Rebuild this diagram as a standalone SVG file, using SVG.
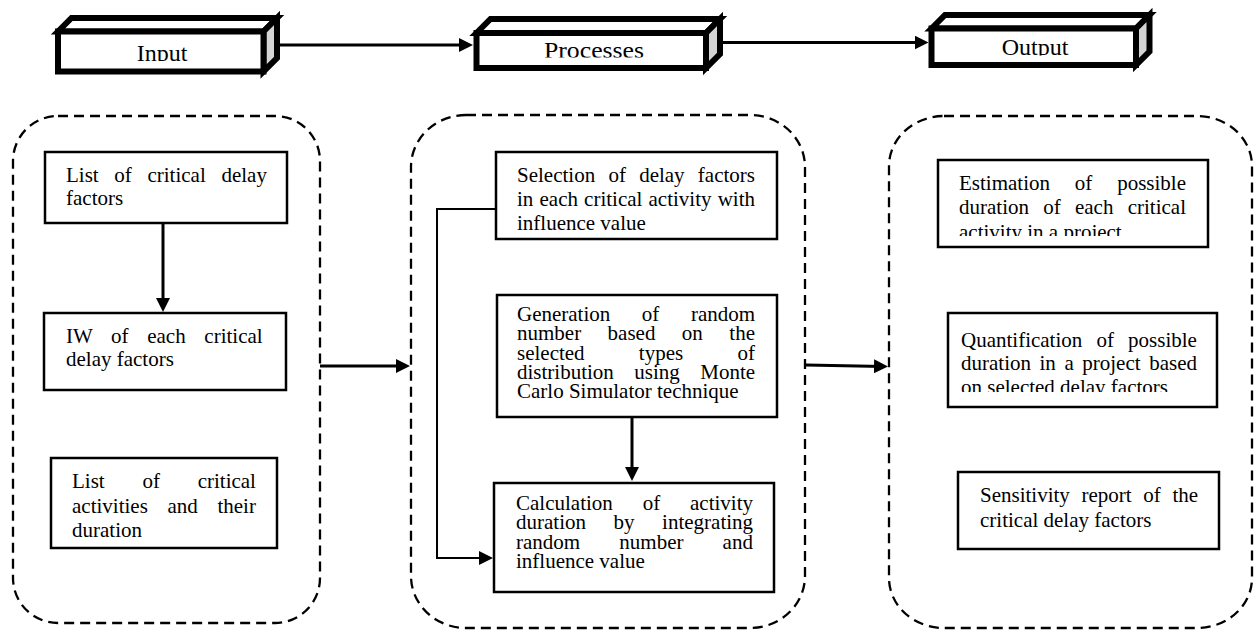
<svg xmlns="http://www.w3.org/2000/svg" width="1255" height="631" viewBox="0 0 1255 631">
<style>
.box{fill:#fff;stroke:#000;stroke-width:2.5}
.t{font-family:"Liberation Serif","Times New Roman",serif;font-size:21px;fill:#000}
.h{font-family:"Liberation Serif","Times New Roman",serif;font-size:24px;fill:#000}
.cont{fill:none;stroke:#000;stroke-width:2.3;stroke-dasharray:10 6}
.conn{fill:none;stroke:#000;stroke-width:3}
.thin{fill:none;stroke:#000;stroke-width:2}
.face{fill:#fff;stroke:#000;stroke-width:6;stroke-linejoin:miter}
.side{fill:#d4d4d4;stroke:#000;stroke-width:6;stroke-linejoin:miter}
</style>
<defs>
<marker id="ah" viewBox="0 0 14 14" markerWidth="14" markerHeight="14" refX="9" refY="7" orient="auto" markerUnits="userSpaceOnUse">
<path d="M0,0 L14,7 L0,14 Z" fill="#000"/>
</marker>
<clipPath id="cIn"><rect x="58" y="31" width="206" height="30"/></clipPath>
<clipPath id="cPr"><rect x="476" y="33" width="230" height="24.5"/></clipPath>
<clipPath id="cOut"><rect x="931" y="28" width="205" height="27.5"/></clipPath>
<clipPath id="cEst"><rect x="938" y="160" width="270" height="76"/></clipPath>
<clipPath id="cQ"><rect x="948" y="313" width="269" height="79"/></clipPath>
</defs>

<g id="containers">
<rect id="c-input" class="cont" x="13" y="116" width="307" height="507" rx="45" ry="45"/>
<rect id="c-process" class="cont" x="411" y="115" width="394" height="513" rx="55" ry="52"/>
<rect id="c-output" class="cont" x="889" y="116" width="363" height="512" rx="55" ry="50"/>
</g>

<g id="hdr-input">
<path class="face" d="M58,31.5 L71.5,18 L277,18 L263.5,31.5 Z"/>
<path class="side" d="M263.5,31.5 L277,18 L277,58 L263.5,71.5 Z"/>
<rect class="face" x="58" y="31.5" width="205.5" height="40"/>
<text class="h" x="162" y="60.5" text-anchor="middle" clip-path="url(#cIn)">Input</text>
</g>

<g id="hdr-processes">
<path class="face" d="M476.5,33 L490.5,19 L720,19 L706,33 Z"/>
<path class="side" d="M706,33 L720,19 L720,54 L706,68 Z"/>
<rect class="face" x="476.5" y="33" width="229.5" height="35"/>
<text class="h" x="594" y="57.5" text-anchor="middle" textLength="100" lengthAdjust="spacingAndGlyphs" clip-path="url(#cPr)">Processes</text>
</g>

<g id="hdr-output">
<path class="face" d="M931.5,28.5 L945,15 L1149.5,15 L1136,28.5 Z"/>
<path class="side" d="M1136,28.5 L1149.5,15 L1149.5,51.5 L1136,65 Z"/>
<rect class="face" x="931.5" y="28.5" width="204.5" height="36.5"/>
<text class="h" x="1035" y="54.5" text-anchor="middle" clip-path="url(#cOut)">Output</text>
</g>

<g id="n-list-delay">
<rect class="box" x="45" y="152" width="242" height="71"/>
<text class="t" x="66" y="182" word-spacing="10.4">List of critical delay</text>
<text class="t" x="66" y="205">factors</text>
</g>

<g id="n-iw">
<rect class="box" x="44" y="313" width="242" height="77"/>
<text class="t" x="66" y="343" word-spacing="13.4">IW of each critical</text>
<text class="t" x="66" y="366">delay factors</text>
</g>

<g id="n-list-activities">
<rect class="box" x="51" y="458" width="226" height="90"/>
<text class="t" x="72" y="488" word-spacing="32.5">List of critical</text>
<text class="t" x="72" y="512.5" word-spacing="14.4">activities and their</text>
<text class="t" x="72" y="537">duration</text>
</g>

<g id="n-selection">
<rect class="box" x="496" y="152" width="281" height="87"/>
<text class="t" x="517" y="182" word-spacing="8">Selection of delay factors</text>
<text class="t" x="517" y="205.5" word-spacing="0.9">in each critical activity with</text>
<text class="t" x="517" y="229.5">influence value</text>
</g>

<g id="n-generation">
<rect class="box" x="497" y="295" width="280" height="122"/>
<text class="t" x="517" y="321" word-spacing="26.3">Generation of random</text>
<text class="t" x="517" y="340.3" word-spacing="21.2">number based on the</text>
<text class="t" x="517" y="359.6" word-spacing="49">selected types of</text>
<text class="t" x="517" y="378.9" word-spacing="15.2">distribution using Monte</text>
<text class="t" x="517" y="398">Carlo Simulator technique</text>
</g>

<g id="n-calculation">
<rect class="box" x="494" y="483" width="280" height="109"/>
<text class="t" x="516" y="510" word-spacing="24.6">Calculation of activity</text>
<text class="t" x="516" y="529.3" word-spacing="22.3">duration by integrating</text>
<text class="t" x="516" y="548.6" word-spacing="33.9">random number and</text>
<text class="t" x="516" y="568">influence value</text>
</g>

<g id="n-estimation">
<rect class="box" x="938" y="160" width="270" height="87"/>
<text class="t" x="959" y="190" word-spacing="19.6">Estimation of possible</text>
<text class="t" x="959" y="214" word-spacing="9">duration of each critical</text>
<text class="t" x="959" y="238.5" clip-path="url(#cEst)">activity in a project</text>
</g>

<g id="n-quantification">
<rect class="box" x="948" y="313" width="269" height="94"/>
<text class="t" x="961" y="347" word-spacing="8.9">Quantification of possible</text>
<text class="t" x="961" y="370" word-spacing="3.3">duration in a project based</text>
<text class="t" x="961" y="393.5" clip-path="url(#cQ)">on selected delay factors</text>
</g>

<g id="n-sensitivity">
<rect class="box" x="958" y="472" width="261" height="77"/>
<text class="t" x="980" y="502" word-spacing="6.4">Sensitivity report of the</text>
<text class="t" x="980" y="527">critical delay factors</text>
</g>

<g id="connectors">
<line class="conn" x1="280" y1="45" x2="468" y2="45" marker-end="url(#ah)"/>
<line class="conn" x1="722" y1="42.5" x2="923.5" y2="42.5" marker-end="url(#ah)"/>
<line class="conn" x1="163" y1="223" x2="163" y2="307" marker-end="url(#ah)"/>
<line class="conn" x1="320" y1="366" x2="405" y2="366" marker-end="url(#ah)"/>
<line class="conn" x1="806" y1="365" x2="883" y2="366.5" marker-end="url(#ah)"/>
<line class="conn" x1="632" y1="417" x2="632" y2="476" marker-end="url(#ah)"/>
<path class="thin" d="M496,209 H437 V558 H488" marker-end="url(#ah)"/>
</g>
</svg>
